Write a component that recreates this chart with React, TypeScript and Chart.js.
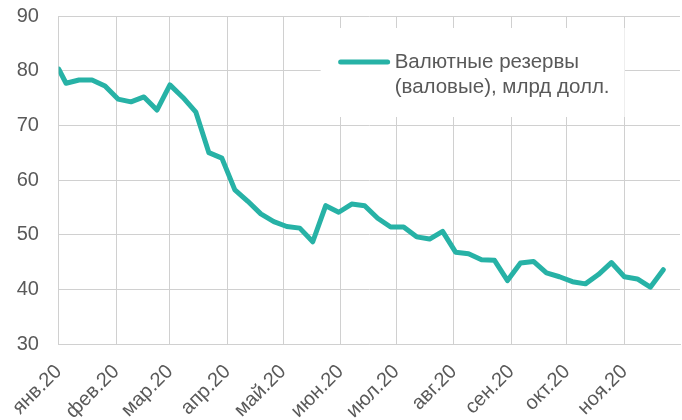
import React, { useEffect, useRef } from 'react';
import { Chart, registerables } from 'chart.js';

Chart.register(...registerables);

// ---- data ----
const dates = [
  '2020-01-01', '2020-01-05', '2020-01-12', '2020-01-19', '2020-01-26',
  '2020-02-02', '2020-02-09', '2020-02-16', '2020-02-23',
  '2020-03-01', '2020-03-08', '2020-03-15', '2020-03-22', '2020-03-29',
  '2020-04-05', '2020-04-12', '2020-04-19', '2020-04-26',
  '2020-05-03', '2020-05-10', '2020-05-17', '2020-05-24', '2020-05-31',
  '2020-06-07', '2020-06-14', '2020-06-21', '2020-06-28',
  '2020-07-05', '2020-07-12', '2020-07-19', '2020-07-26',
  '2020-08-02', '2020-08-09', '2020-08-16', '2020-08-23', '2020-08-30',
  '2020-09-06', '2020-09-13', '2020-09-20', '2020-09-27',
  '2020-10-04', '2020-10-11', '2020-10-18', '2020-10-25',
  '2020-11-01', '2020-11-08', '2020-11-15', '2020-11-22',
];

const reserves = [
  80.3, 77.7, 78.3, 78.3, 77.2,
  74.8, 74.3, 75.2, 72.8,
  77.4, 75.1, 72.4, 65.0, 64.0,
  58.2, 56.1, 53.8, 52.4,
  51.5, 51.2, 48.7, 55.3, 54.1,
  55.6, 55.3, 53.0, 51.4,
  51.4, 49.6, 49.2, 50.6,
  46.8, 46.5, 45.4, 45.3, 41.6,
  44.8, 45.1, 43.0, 42.3,
  41.4, 41.0, 42.7, 44.9,
  42.3, 41.9, 40.4, 43.6,
];

const monthStarts = [
  '2020-01-01', '2020-02-01', '2020-03-01', '2020-04-01', '2020-05-01', '2020-06-01',
  '2020-07-01', '2020-08-01', '2020-09-01', '2020-10-01', '2020-11-01',
];
const monthLabels = [
  'янв.20', 'фев.20', 'мар.20', 'апр.20', 'май.20', 'июн.20',
  'июл.20', 'авг.20', 'сен.20', 'окт.20', 'ноя.20',
];
const axisStart = '2020-01-01';
const axisEnd = '2020-12-01';

const yMin = 30;
const yMax = 90;
const yStep = 10;

const seriesName = ['Валютные резервы', '(валовые), млрд долл.'];

// ---- helpers ----
const dayIndex = (s: string) => (Date.parse(s) - Date.parse(axisStart)) / 86400000;

const LINE_COLOR = '#27b2a6';
const GRID_COLOR = '#d0d0d0';
const TEXT_COLOR = '#595959';
const FONT = '"Liberation Sans", Arial, sans-serif';

const boxLegend = {
  id: 'boxLegend',
  beforeDatasetsDraw(chart: any) {
    const { ctx, chartArea } = chart;
    const left = chartArea.left + 262;
    const top = chartArea.top + 12;
    const w = 304;
    const h = 89;
    ctx.save();
    ctx.fillStyle = '#ffffff';
    ctx.fillRect(left, top, w, h);
    // sample line
    const ly = top + 34;
    ctx.strokeStyle = LINE_COLOR;
    ctx.lineWidth = 5;
    ctx.lineCap = 'round';
    ctx.beginPath();
    ctx.moveTo(left + 20, ly);
    ctx.lineTo(left + 67, ly);
    ctx.stroke();
    // text
    ctx.fillStyle = TEXT_COLOR;
    ctx.font = `20.5px ${FONT}`;
    ctx.textAlign = 'left';
    ctx.textBaseline = 'middle';
    seriesName.forEach((t, i) => {
      ctx.fillText(t, left + 74, ly + i * 25);
    });
    ctx.restore();
  },
};

export default function App() {
  const canvasRef = useRef<HTMLCanvasElement | null>(null);

  useEffect(() => {
    if (!canvasRef.current) return;
    Chart.defaults.font.family = FONT;
    const chart = new Chart(canvasRef.current, {
      type: 'line',
      data: {
        datasets: [
          {
            label: seriesName.join(' '),
            data: dates.map((d, i) => ({ x: dayIndex(d), y: reserves[i] })),
            borderColor: LINE_COLOR,
            backgroundColor: LINE_COLOR,
            borderWidth: 5,
            pointRadius: 0,
            tension: 0,
            borderJoinStyle: 'round',
            borderCapStyle: 'round',
          },
        ],
      },
      options: {
        responsive: false,
        animation: false,
        layout: { padding: { top: 0, right: 2, left: 16, bottom: 0 } },
        plugins: {
          legend: { display: false },
          tooltip: { enabled: false },
        },
        scales: {
          x: {
            type: 'linear',
            min: dayIndex(axisStart),
            max: dayIndex(axisEnd),
            afterBuildTicks: (scale: any) => {
              scale.ticks = monthStarts.map((s) => ({ value: dayIndex(s) }));
            },
            afterFit: (scale: any) => {
              scale.height = 76;
            },
            ticks: {
              autoSkip: false,
              maxRotation: 45,
              minRotation: 45,
              padding: 16,
              color: TEXT_COLOR,
              font: { size: 20, family: FONT },
              callback: (_v: any, i: number) => monthLabels[i],
            },
            grid: { color: GRID_COLOR, drawTicks: false, lineWidth: 1 },
            border: { color: GRID_COLOR },
          },
          y: {
            min: yMin,
            max: yMax,
            afterFit: (scale: any) => {
              scale.width = 42;
            },
            ticks: {
              stepSize: yStep,
              padding: 4,
              crossAlign: 'far',
              color: TEXT_COLOR,
              font: { size: 20, family: FONT },
            },
            grid: { color: GRID_COLOR, drawTicks: false, lineWidth: 1 },
            border: { color: GRID_COLOR },
          },
        },
      },
      plugins: [boxLegend],
    } as any);
    return () => chart.destroy();
  }, []);

  return (
    <div style={{ position: 'fixed', left: 0, top: 0, width: 682, height: 420, background: '#fff' }}>
      <canvas ref={canvasRef} width={682} height={420} />
    </div>
  );
}
